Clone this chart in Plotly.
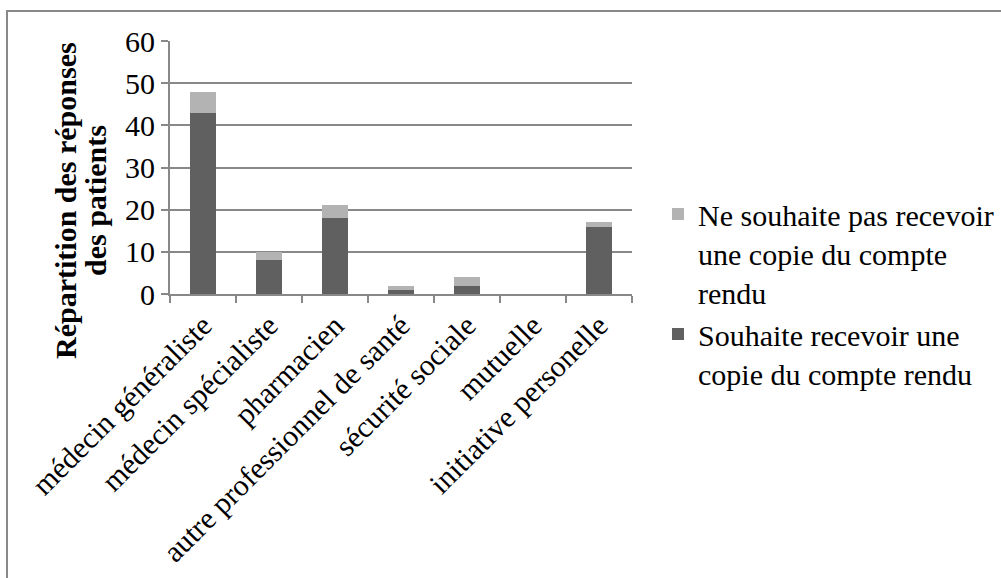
import plotly.graph_objects as go

categories = ["médecin généraliste", "médecin spécialiste", "pharmacien",
              "autre professionnel de santé", "sécurité sociale", "mutuelle",
              "initiative personelle"]
souhaite = [43, 8, 18, 1, 2, 0, 16]
ne_souhaite_pas = [5, 2, 3, 1, 2, 0, 1]
name_oui = "Souhaite recevoir une<br>copie du compte rendu"
name_non = "Ne souhaite pas recevoir<br>une copie du compte<br>rendu"
y_title_lines = ["Répartition des réponses", "des patients"]

FAM = "Liberation Serif"
FS = 30

# plot area in pixels
L, R, T, B = 170, 632, 41, 294
W, H = 1001, 578
PW, PH = R - L, B - T


def px(x):
    return (x - L) / PW


def py(y):
    return (B - y) / PH


fig = go.Figure()
fig.add_trace(go.Bar(x=categories, y=souhaite, name=name_oui,
                     marker=dict(color="#606060", line=dict(width=0))))
fig.add_trace(go.Bar(x=categories, y=ne_souhaite_pas, name=name_non,
                     marker=dict(color="#b3b3b3", line=dict(width=0))))

annotations = []
for i, (line, xc) in enumerate(zip(y_title_lines, [65, 95])):
    annotations.append(dict(text=f"<b>{line}</b>", xref="paper", yref="paper",
                            x=px(xc), y=py(201), xanchor="center",
                            yanchor="middle", textangle=-90, showarrow=False,
                            font=dict(family=FAM, size=FS, color="black")))

fig.update_layout(
    barmode="stack",
    bargap=0.6,
    width=W, height=H,
    margin=dict(l=L, r=W - R, t=T, b=H - B, autoexpand=False),
    paper_bgcolor="white", plot_bgcolor="white",
    font=dict(family=FAM, size=FS, color="black"),
    showlegend=True,
    legend=dict(x=px(658), y=py(188), xanchor="left", yanchor="top",
                traceorder="reversed", valign="top",
                font=dict(family=FAM, size=FS, color="black"),
                itemwidth=30, bgcolor="rgba(0,0,0,0)"),
    xaxis=dict(tickangle=-45, tickfont=dict(family=FAM, size=FS, color="black"),
               showline=True, automargin=False,
               linecolor="#888", linewidth=2, ticks="outside",
               tickson="boundaries", ticklen=7, tickcolor="#888",
               tickwidth=2, showgrid=False),
    yaxis=dict(range=[0, 60], dtick=10, showline=True, automargin=False,
               linecolor="#888", linewidth=2, ticks="outside", ticklen=7,
               tickcolor="#888", tickwidth=2, gridcolor="#888", gridwidth=2,
               tickfont=dict(family=FAM, size=FS, color="black")),
    annotations=annotations,
    shapes=[dict(type="rect", xref="paper", yref="paper",
                 x0=px(7), x1=px(1010), y0=py(600), y1=py(11),
                 line=dict(color="#888", width=2), layer="below")],
)

fig.write_html("out.html",
               config={"displayModeBar": False},
               post_script="document.body.style.margin='0';"
                           "document.body.style.overflow='hidden';")
